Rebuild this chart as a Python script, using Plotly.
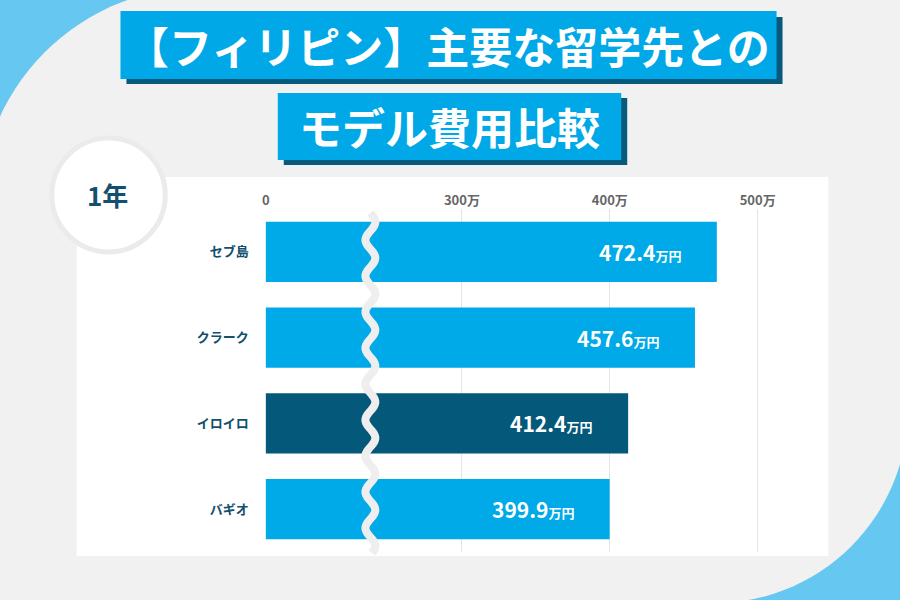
import math
import plotly.graph_objects as go

# data
schools = ["セブ島", "クラーク", "イロイロ", "バギオ"]
costs = [472.4, 457.6, 412.4, 399.9]
highlight = "イロイロ"
tick_labels = ["0", "300万", "400万", "500万"]
tick_values = [300, 400, 500]

W, H = 900, 600
BLUE = "#00a9e8"
DARK = "#04587a"
NAVY = "#134f6f"
FONT = "Noto Sans CJK JP"


def px(x):
    return x / W


def py(y):
    return 1 - y / H


def pt(x, y):
    return f"{px(x):.5f},{py(y):.5f}"


# axis scale: 300 -> 460px, 400 -> 608.5px, plot left edge = 263px ("0")
scale = 1.485
left_px, right_px = 263, 800
x_lo = 300 - (460 - left_px) / scale
x_hi = 300 + (right_px - 460) / scale

colors = [DARK if s == highlight else BLUE for s in schools]

fig = go.Figure()
fig.add_trace(go.Bar(
    y=schools, x=costs, orientation="h",
    marker=dict(color=colors, line=dict(width=0)),
    width=0.7, hoverinfo="skip",
))

annotations = []
for s, v in zip(schools, costs):
    annotations.append(dict(
        x=v, y=s, xref="x", yref="y", xanchor="right", yanchor="middle", xshift=-34,
        text=f"<b>{v:.1f}</b><span style='font-size:13px'><b>万円</b></span>",
        showarrow=False, font=dict(family=FONT, size=21, color="white"),
    ))


def label(x, y, text, size, color):
    return dict(x=px(x), y=py(y), xref="paper", yref="paper",
                xanchor="center", yanchor="middle", text=text, showarrow=False,
                font=dict(family=FONT, size=size, color=color))


annotations.append(label(446, 45, "<b>【フィリピン】主要な留学先との</b>", 43, "white"))
annotations.append(label(447, 126, "<b>モデル費用比較</b>", 43, "white"))
annotations.append(label(104, 195, "<b>1年</b>", 26, NAVY))


def rect(x0, y0, x1, y1, color, layer="below"):
    return dict(type="rect", xref="paper", yref="paper",
                x0=px(x0), x1=px(x1), y0=py(y1), y1=py(y0),
                fillcolor=color, line=dict(width=0), layer=layer)


def arc(cx, cy, r, a0, a1):
    out = []
    for i in range(0, 31):
        t = math.radians(a0 + (a1 - a0) * i / 30)
        out.append(pt(cx + r * math.cos(t), cy + r * math.sin(t)))
    return out


# gray background with two big rounded corners (blue shows through)
bg = arc(199, 211, 224, 180, 270) + [pt(908, -13)] + arc(714, 409, 194, 0, 90) + [pt(-25, 603)]

shapes = [
    dict(type="path", xref="paper", yref="paper", path="M" + " L".join(bg) + " Z",
         fillcolor="#f1f1f1", line=dict(width=0), layer="below"),
    rect(73, 177, 828, 556, "white"),
    dict(type="circle", xref="paper", yref="paper",
         x0=px(48), x1=px(162), y0=py(252), y1=py(138),
         fillcolor="white", line=dict(color="#ebebeb", width=5), layer="below"),
    rect(123, 17, 782, 84, "#075a7b"),
    rect(117, 11, 776, 79, "#00a8e8"),
    rect(281, 98, 626, 165, "#075a7b"),
    rect(275, 93, 620, 160, "#00a8e8"),
]

# axis break wave
pts = []
y = 213
while y <= 553:
    x = 368 + 5 * math.sin((y - 213) / 36 * 2 * math.pi)
    pts.append(pt(x, y))
    y += 2
shapes.append(dict(type="path", xref="paper", yref="paper",
                   path="M" + " L".join(pts),
                   line=dict(color="#eeeeee", width=8), layer="above"))

fig.update_layout(
    width=W, height=H,
    margin=dict(l=0, r=0, t=0, b=0),
    paper_bgcolor="#66c7f0",
    plot_bgcolor="rgba(0,0,0,0)",
    showlegend=False,
    shapes=shapes,
    annotations=annotations,
    xaxis=dict(
        domain=[px(left_px), px(right_px)], range=[x_lo, x_hi],
        side="top", tickvals=[x_lo] + tick_values, ticktext=tick_labels,
        tickfont=dict(family=FONT, size=13, color="#666666", weight="bold"),
        showgrid=True, gridcolor="#e4e4e4", gridwidth=1,
        zeroline=False, showline=False, ticks="", fixedrange=True,
    ),
    yaxis=dict(
        domain=[py(552), py(209)], autorange="reversed",
        tickfont=dict(family=FONT, size=13, color=NAVY, weight="bold"),
        ticks="", ticklabelstandoff=16, showgrid=False, zeroline=False,
        showline=False, fixedrange=True,
    ),
)

fig.write_html("out.html", config={"displayModeBar": False},
               post_script="document.body.style.margin='0';")
